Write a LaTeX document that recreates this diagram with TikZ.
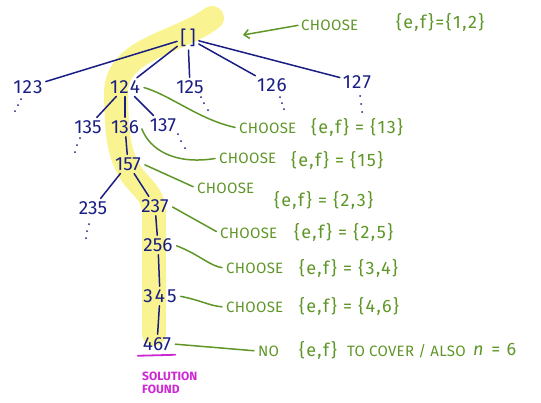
\documentclass[tikz,border=0pt]{standalone}
\usepackage{fontspec}
\setmainfont{Fira Sans}
\usetikzlibrary{arrows.meta}
\definecolor{ink}{RGB}{25,30,130}
\definecolor{note}{RGB}{95,150,40}
\definecolor{hl}{RGB}{249,244,145}
\definecolor{mag}{RGB}{205,40,210}
\begin{document}
\begin{tikzpicture}[x=1pt,y=-1pt,
  tn/.style={text=ink,font=\fontsize{19}{19}\selectfont,inner sep=2pt},
  edge/.style={draw=ink,line width=1.5pt,line cap=round,shorten <=1pt,shorten >=1pt},
  ann/.style={text=note,font=\fontsize{15}{15}\selectfont\addfontfeature{LetterSpace=2},anchor=west,inner sep=1pt},
  brc/.style={text=note,font=\fontsize{18}{18}\selectfont\addfontfeature{LetterSpace=8},anchor=west,inner sep=1pt},
  lead/.style={draw=note,line width=1.5pt,line cap=round,shorten >=3pt,shorten <=2pt},
  dotsmark/.style={fill=ink}]
\useasboundingbox (0,0) rectangle (541,402);
% highlight path
\draw[hl,line width=24pt,line cap=round,line join=round]
  (212,18) .. controls (175,45) and (115,48) .. (116,95)
  .. controls (117,135) and (118,150) .. (130,172)
  .. controls (140,188) and (154,192) .. (154,215) -- (154,334);
% tree nodes
\node[tn] (r) at (188,38) {[\,]};
\node[tn] (n123) at (28,87) {1\kern1pt2\kern1pt3};
\node[tn] (n124) at (125,87) {1\kern1pt2\kern1pt4};
\node[tn] (n125) at (190,87) {125};
\node[tn] (n126) at (272,85) {1\kern1pt2\kern1pt6};
\node[tn] (n127) at (357,82) {1\kern1pt2\kern1pt7};
\node[tn] (n135) at (88,127) {135};
\node[tn] (n136) at (125,127) {136};
\node[tn] (n137) at (163,125) {137};
\node[tn] (n157) at (128,164) {157};
\node[tn] (n235) at (93,208) {235};
\node[tn] (n237) at (155,206) {237};
\node[tn] (n256) at (158,245) {256};
\node[tn] (n345) at (160,296) {3\kern2pt4\kern2pt5};
\node[tn] (n467) at (157,344) {467};
% tree edges
\foreach \a/\b in {r/n123,r/n124,r/n125,r/n126,r/n127,n124/n135,n124/n136,n124/n137,
  n136/n157,n157/n235,n157/n237,n237/n256,n256/n345,n345/n467}
  \draw[edge] (\a) -- (\b);
% continuation dots
\foreach \p in {(21,99),(18,105),(15,111),(201,97),(204,103),(208,110),
  (280,97),(282,103),(284,109),(360,96),(361,104),(362,112),
  (80,138),(77,145),(75,152),(178,134),(181,141),(185,148),
  (89,224),(87,231),(86,238)}
  \fill[dotsmark] \p circle (1pt);
% annotations
\node[ann] (a1) at (300,25) {CHOOSE};
\node[brc] (b1) at (395,22) {\{e,f\}=\{1,2\}};
\coordinate (tip) at (243,35);
\draw[lead,shorten >=0pt,-{Straight Barb[length=5pt,width=9pt]}] (a1.west) -- (tip);
\node[ann] (a2) at (238,128) {CHOOSE};
\node[brc] (b2) at (310,127) {\{e,f\} = \{13\}};
\draw[lead] (n124.east) .. controls (170,95) and (200,120) .. (a2.west);
\node[ann] (a3) at (218,158) {CHOOSE};
\node[brc] (b3) at (290,160) {\{e,f\} = \{15\}};
\draw[lead] (n136.east) .. controls (150,150) and (175,165) .. (a3.west);
\node[ann] (a4) at (196,188) {CHOOSE};
\node[brc] (b4) at (273,200) {\{e,f\} = \{2,3\}};
\draw[lead] (n157.east) -- (a4.west);
\node[ann] (a5) at (219,233) {CHOOSE};
\node[brc] (b5) at (293,232) {\{e,f\} = \{2,5\}};
\draw[lead] (n237.east) -- (a5.west);
\node[ann] (a6) at (225,268) {CHOOSE};
\node[brc] (b6) at (298,268) {\{e,f\} = \{3,4\}};
\draw[lead] (n256.east) .. controls (200,255) and (210,266) .. (a6.west);
\node[ann] (a7) at (225,307) {CHOOSE};
\node[brc] (b7) at (298,306) {\{e,f\} = \{4,6\}};
\draw[lead] (n345.east) .. controls (200,300) and (210,306) .. (a7.west);
\node[ann] (a8) at (257,351) {NO};
\node[brc] (b8) at (298,350) {\{e,f\}};
\node[ann] (d8) at (346,351) {TO\hspace{4pt}COVER / ALSO};
\node[brc] (c8) at (472,349) {\textit{n} = 6};
\draw[lead] (n467.east) -- (a8.west);
% solution found
\node[text=mag,font=\fontsize{12}{13}\selectfont\bfseries,align=left,anchor=north west,inner sep=0pt] (sol) at (142,372) {SOLUTION\\FOUND};
\draw[mag,line width=1.8pt,line cap=round] ([xshift=-3pt,yshift=-3pt]n467.south west) -- ([xshift=2pt,yshift=-2pt]n467.south east);
\end{tikzpicture}
\end{document}
